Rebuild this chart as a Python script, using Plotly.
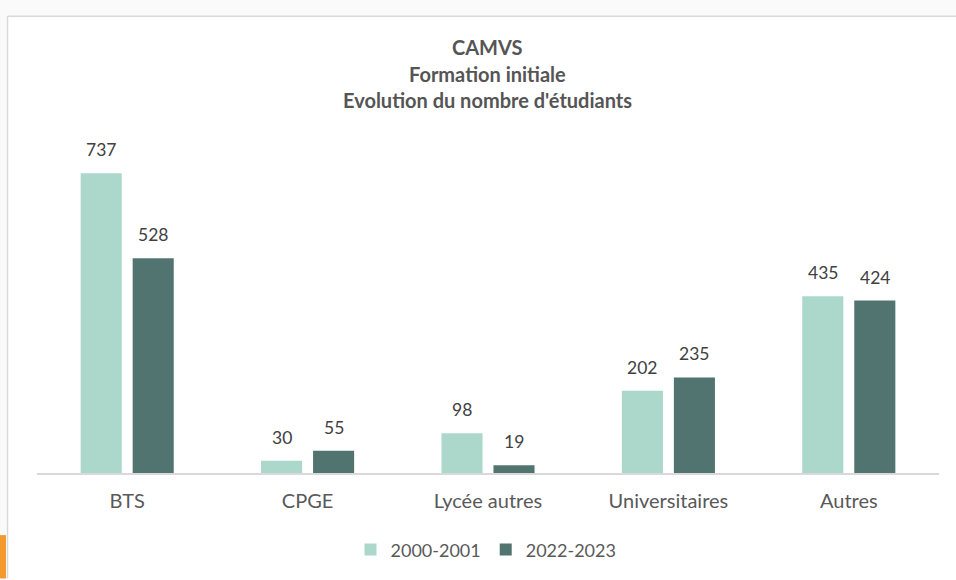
import plotly.graph_objects as go

categories = ["BTS", "CPGE", "Lycée autres", "Universitaires", "Autres"]
series_names = ["2000-2001", "2022-2023"]
values_2000 = [737, 30, 98, 202, 435]
values_2022 = [528, 55, 19, 235, 424]
title_lines = ["CAMVS", "Formation initiale", "Evolution du nombre d'étudiants"]

colors = ["#acd8cb", "#517471"]
FONT = "Lato, 'Open Sans', sans-serif"
W, H = 956, 580
L, R, T, B = 37, 17, 130, 102
ymax = 843.6

fig = go.Figure()
for name, vals, col in zip(series_names, [values_2000, values_2022], colors):
    fig.add_trace(go.Bar(x=categories, y=vals, name=name, marker=dict(color=col, line=dict(width=0)),
                         hoverinfo="x+y+name"))

annotations = []
for i, vals in enumerate([values_2000, values_2022]):
    shift = -26 if i == 0 else 26
    for c, v in zip(categories, vals):
        annotations.append(dict(x=c, y=v, xref="x", yref="y", text=str(v), showarrow=False,
                                xshift=shift, yanchor="bottom", yshift=11,
                                font=dict(family=FONT, size=17.5, color="#404040")))

plot_h = H - T - B
plot_w = W - L - R
def py(p):
    return (H - B - p) / plot_h
def px(p):
    return (p - L) / plot_w

for line, ypix in zip(title_lines, [46, 73, 100]):
    annotations.append(dict(x=px(487), y=py(ypix), xref="paper", yref="paper", text="<b>%s</b>" % line,
                            showarrow=False, xanchor="center", yanchor="middle",
                            font=dict(family=FONT, size=20, color="#555555")))

shapes = [
    dict(type="rect", xref="paper", yref="paper", x0=px(-5), x1=px(W + 5), y0=py(14.5), y1=py(-5),
         fillcolor="#fafafa", line=dict(width=0), layer="below"),
    dict(type="rect", xref="paper", yref="paper", x0=px(-5), x1=px(7), y0=py(H + 5), y1=py(-5),
         fillcolor="#fafafa", line=dict(width=0), layer="below"),
    dict(type="line", xref="paper", yref="paper", x0=px(7.5), x1=px(W + 5), y0=py(14.5), y1=py(14.5),
         line=dict(color="#d9d9d9", width=1.5), layer="below"),
    dict(type="line", xref="paper", yref="paper", x0=px(7.5), x1=px(7.5), y0=py(14.5), y1=py(H + 5),
         line=dict(color="#d9d9d9", width=1.5), layer="below"),
    dict(type="rect", xref="paper", yref="paper", x0=px(-5), x1=px(6), y0=py(H + 5), y1=py(541),
         fillcolor="#f29a2e", line=dict(width=0), layer="below"),
]

fig.update_layout(
    width=W, height=H,
    margin=dict(l=L, r=R, t=T, b=B),
    paper_bgcolor="white", plot_bgcolor="rgba(0,0,0,0)",
    barmode="group", bargap=0.4235, bargroupgap=0.21,
    showlegend=True,
    legend=dict(orientation="h", x=px(486), xanchor="center", y=py(556), yanchor="middle",
                font=dict(family=FONT, size=18, color="#595959"), itemwidth=30,
                bgcolor="rgba(0,0,0,0)"),
    xaxis=dict(showline=True, linecolor="#d9d9d9", linewidth=1.5, ticks="", showgrid=False,
               ticklabelstandoff=9,
               tickfont=dict(family=FONT, size=20, color="#595959")),
    yaxis=dict(range=[0, ymax], visible=False, showgrid=False, zeroline=False),
    annotations=annotations,
    shapes=shapes,
)

fig.write_html("out.html", config={"displayModeBar": False},
               post_script="document.body.style.margin='0';")
